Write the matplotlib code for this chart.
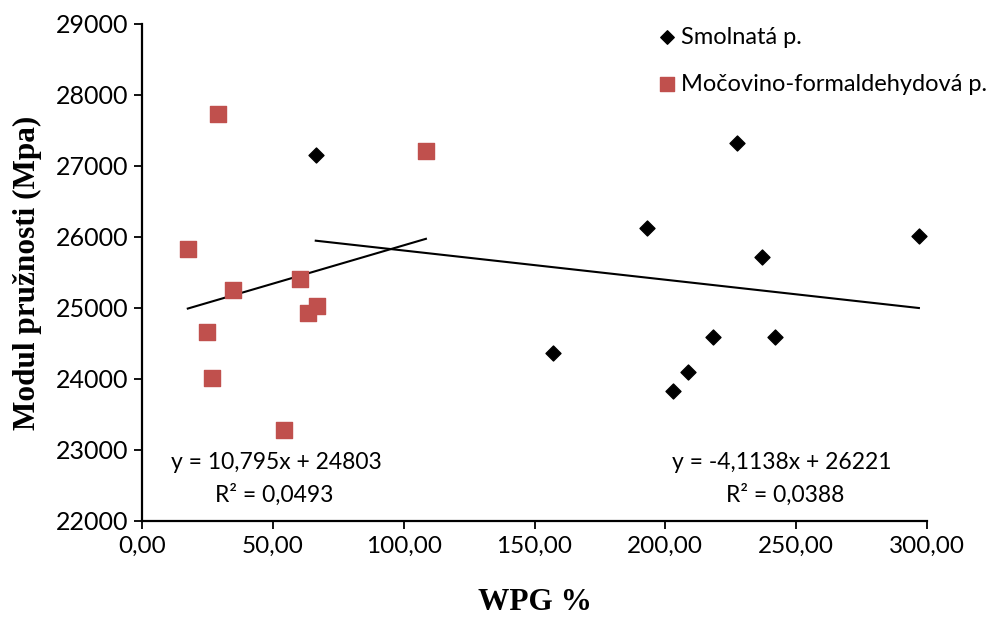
import numpy as np
import matplotlib
matplotlib.use("Agg")
import matplotlib.pyplot as plt

# ==============================
# DATA
# ==============================
smol_x = [66.4, 193.0, 296.9, 236.8, 157.2, 218.2, 241.9, 208.5, 202.9, 227.4]
smol_y = [27159, 26125, 26017, 25722, 24371, 24596, 24586, 24104, 23837, 27325]

mf_x = [28.9, 108.5, 17.5, 34.9, 60.5, 66.8, 63.5, 24.7, 26.9, 54.4]
mf_y = [27729, 27217, 25824, 25257, 25412, 25022, 24930, 24657, 24010, 23284]

# trend line coefficients as printed on the chart
smol_fit = (-4.1138, 26221)
mf_fit = (10.795, 24803)
smol_eq = ["y = -4,1138x + 26221", "R² = 0,0388"]
mf_eq = ["y = 10,795x + 24803", "R² = 0,0493"]

series_names = ["Smolnatá p.", "Močovino-formaldehydová p."]
x_ticks = [0, 50, 100, 150, 200, 250, 300]
x_tick_labels = ["0,00", "50,00", "100,00", "150,00", "200,00", "250,00", "300,00"]
y_ticks = [22000, 23000, 24000, 25000, 26000, 27000, 28000, 29000]

RED = "#C0504D"
SANS = "Lato"
SERIF = "Liberation Serif"

# ==============================
# PLOT
# ==============================
fig = plt.figure(figsize=(10.05, 6.2), dpi=100)
ax = fig.add_axes([0.1413, 0.1597, 0.7811, 0.8016])

ax.scatter(smol_x, smol_y, marker="D", s=58, color="black", label=series_names[0], zorder=3)
ax.scatter(mf_x, mf_y, marker="s", s=117, color=RED, label=series_names[1], zorder=3)

# trend lines over the range of each series
for xs, (k, q) in [(smol_x, smol_fit), (mf_x, mf_fit)]:
    xl = np.array([min(xs), max(xs)])
    ax.plot(xl, k * xl + q, color="black", lw=1.5, zorder=2)

ax.set_xlim(0, 300)
ax.set_ylim(22000, 29000)
ax.set_xticks(x_ticks)
ax.set_xticklabels(x_tick_labels, fontsize=17.5, family=SANS)
ax.set_yticks(y_ticks)
ax.set_yticklabels([str(v) for v in y_ticks], fontsize=18, family=SANS)

for s in ["top", "right"]:
    ax.spines[s].set_visible(False)
for s in ["left", "bottom"]:
    ax.spines[s].set_linewidth(1.6)
ax.tick_params(direction="out", length=6, width=1.3, pad=5)
ax.tick_params(axis="y", pad=4)

ax.set_xlabel("WPG %", family=SERIF, fontweight="bold", fontsize=22.5, labelpad=22)
ax.set_ylabel("Modul pružnosti (Mpa)", family=SERIF, fontweight="bold",
              fontsize=22.5, labelpad=10)

# equations
ax.text(51.2, 22821, mf_eq[0], ha="center", va="center", fontsize=16.5, family=SANS)
ax.text(50.5, 22370, mf_eq[1], ha="center", va="center", fontsize=16.5, family=SANS)
ax.text(244.4, 22821, smol_eq[0], ha="center", va="center", fontsize=16.5, family=SANS)
ax.text(245.9, 22370, smol_eq[1], ha="center", va="center", fontsize=16.5, family=SANS)

fig.legend(loc="upper left", bbox_to_anchor=(0.640, 0.976), frameon=False,
           borderpad=0, prop={"family": SANS, "size": 17}, handlelength=1.0,
           handletextpad=0.1, labelspacing=1.1, scatterpoints=1, markerscale=0.9)

fig.savefig("out.png", dpi=100)
